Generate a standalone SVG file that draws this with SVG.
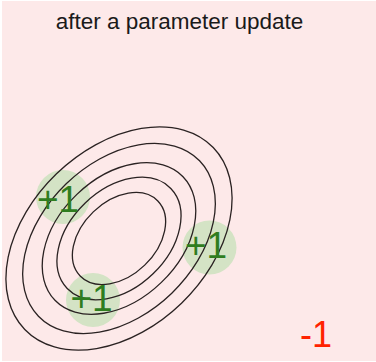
<svg xmlns="http://www.w3.org/2000/svg" width="376" height="362" viewBox="0 0 376 362">
<style>
.bg{fill:#fde9e9}
.contour{fill:none;stroke:#2a2222;stroke-width:1.3}
.spot{fill:#d4e3c5}
.plus{font-family:"Liberation Sans",Arial,sans-serif;font-size:37px;fill:#2f7d1f}
.minus{font-family:"Liberation Sans",Arial,sans-serif;font-size:36px;fill:#ff2200}
.title{font-family:"Liberation Sans",Arial,sans-serif;font-size:22.5px;fill:#1a1a1a}
</style>
<rect x="0" y="0" width="376" height="362" fill="#ffffff"/>
<rect class="bg" x="2" y="1" width="374" height="360"/>
<text class="title" x="179.5" y="29" text-anchor="middle">after a parameter update</text>
<g id="spots">
<circle class="spot" cx="63" cy="197" r="27"/>
<circle class="spot" cx="209.5" cy="247.5" r="27"/>
<circle class="spot" cx="93" cy="300" r="27"/>
</g>
<g id="contours" transform="translate(119 238.5) rotate(-44)">
<ellipse class="contour" cx="0" cy="0" rx="54" ry="37"/>
<ellipse class="contour" cx="0" cy="0" rx="72" ry="49"/>
<ellipse class="contour" cx="0" cy="0" rx="89" ry="61"/>
<ellipse class="contour" cx="0" cy="0" rx="112" ry="76"/>
<ellipse class="contour" cx="0" cy="0" rx="131" ry="90"/>
</g>
<g id="labels">
<text class="plus" x="58" y="212" text-anchor="middle">+1</text>
<text class="plus" x="206" y="258" text-anchor="middle">+1</text>
<text class="plus" x="91.5" y="311" text-anchor="middle">+1</text>
<text class="minus" x="316" y="347" text-anchor="middle">-1</text>
</g>
</svg>
